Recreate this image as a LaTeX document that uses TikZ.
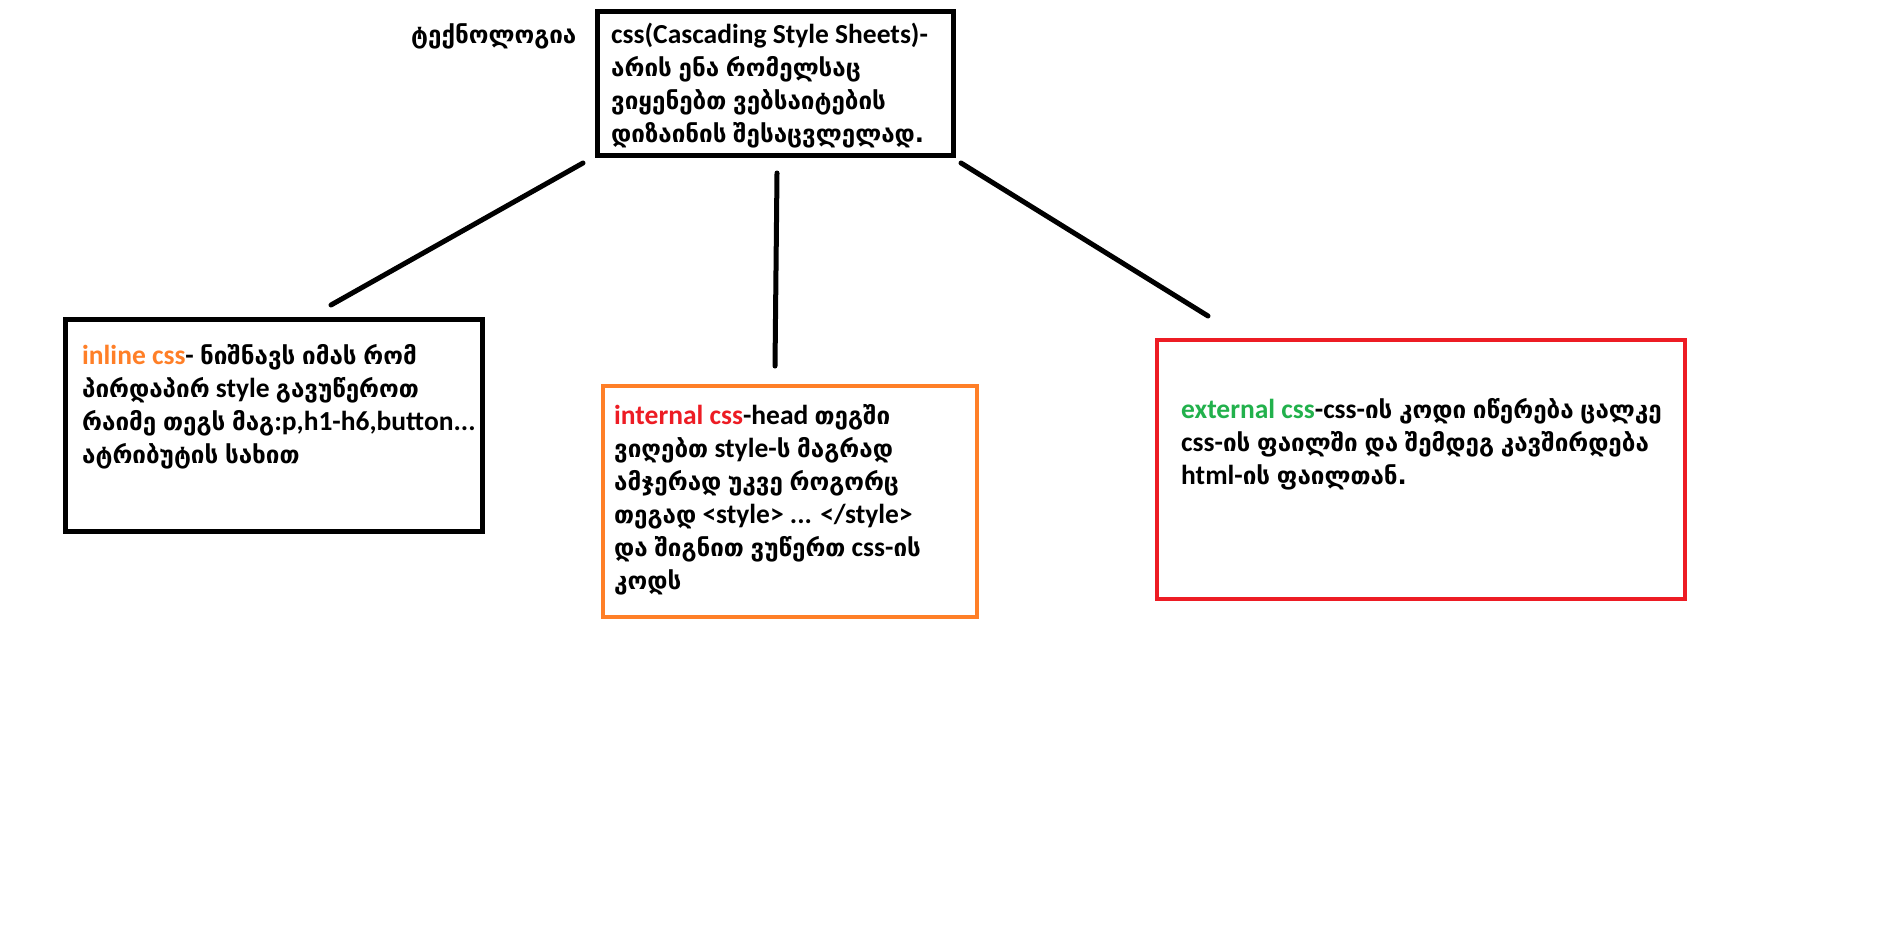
\documentclass[tikz,border=0pt]{standalone}
\usepackage{fontspec}
\setmainfont{Carlito}
\newfontfamily\geo{DejaVu Sans}[Scale=0.88, WordSpace=0.8]
\newcommand{\ka}[1]{{\geo #1}}
\definecolor{paintorange}{RGB}{255,127,39}
\definecolor{paintred}{RGB}{237,28,36}
\definecolor{paintgreen}{RGB}{34,177,76}
\tikzset{
  box/.style={draw, line width=5pt, outer sep=0pt, inner sep=0pt},
  txt/.style={anchor=base west, align=left, inner sep=0pt},
  link/.style={line width=5pt, line cap=round}
}
\begin{document}
\begin{tikzpicture}[x=1pt, y=-1pt, font=\fontsize{27.5}{33}\selectfont\bfseries]
	\useasboundingbox[fill=white] (0,0) rectangle (1894,935);
	% boxes
	\node[box, minimum width=356pt, minimum height=144pt] (css) at (775,83) {};
	\node[box, minimum width=417pt, minimum height=212pt] (inline) at (273.5,425) {};
	\node[box, draw=paintorange, line width=4pt, minimum width=374pt, minimum height=231pt] (internal) at (790,501) {};
	\node[box, draw=paintred, line width=4pt, minimum width=528pt, minimum height=259pt] (external) at (1421,469) {};
	% texts (base = last line)
	\node[txt] (tech) at (411,43) {\ka{ტექნოლოგია}};
	\node[txt] (csstxt) at (611,142) {css(Cascading Style Sheets)-\\
	  \ka{არის ენა რომელსაც}\\
	  \ka{ვიყენებთ ვებსაიტების}\\
	  \ka{დიზაინის შესაცვლელად.}};
	\node[txt] (inlinetxt) at (82,463) {{\color{paintorange}inline css}- \ka{ნიშნავს იმას რომ}\\
	  \ka{პირდაპირ} style \ka{გავუწეროთ}\\
	  \ka{რაიმე თეგს მაგ}:p,h1-h6,button...\\
	  \ka{ატრიბუტის სახით}};
	\node[txt] (internaltxt) at (614,589) {{\color{paintred}internal css}-head \ka{თეგში}\\
	  \ka{ვიღებთ} style-\ka{ს მაგრად}\\
	  \ka{ამჯერად უკვე როგორც}\\
	  \ka{თეგად} <style> ... </style>\\
	  \ka{და შიგნით ვუწერთ} css-\ka{ის}\\
	  \ka{კოდს}};
	\node[txt] (externaltxt) at (1181,484) {{\color{paintgreen}external css}-css-\ka{ის კოდი იწერება ცალკე}\\
	  css-\ka{ის ფაილში და შემდეგ კავშირდება}\\
	  html-\ka{ის ფაილთან.}};
	% connectors
	\coordinate (l1a) at (583,163);
	\coordinate (l1b) at (331,305);
	\coordinate (l2a) at (777,173);
	\coordinate (l2b) at (775,366);
	\coordinate (l3a) at (961,163);
	\coordinate (l3b) at (1208,316);
	\draw[link] (l1a) -- (l1b);
	\draw[link] (l2a) -- (l2b);
	\draw[link] (l3a) -- (l3b);
\end{tikzpicture}
\end{document}
